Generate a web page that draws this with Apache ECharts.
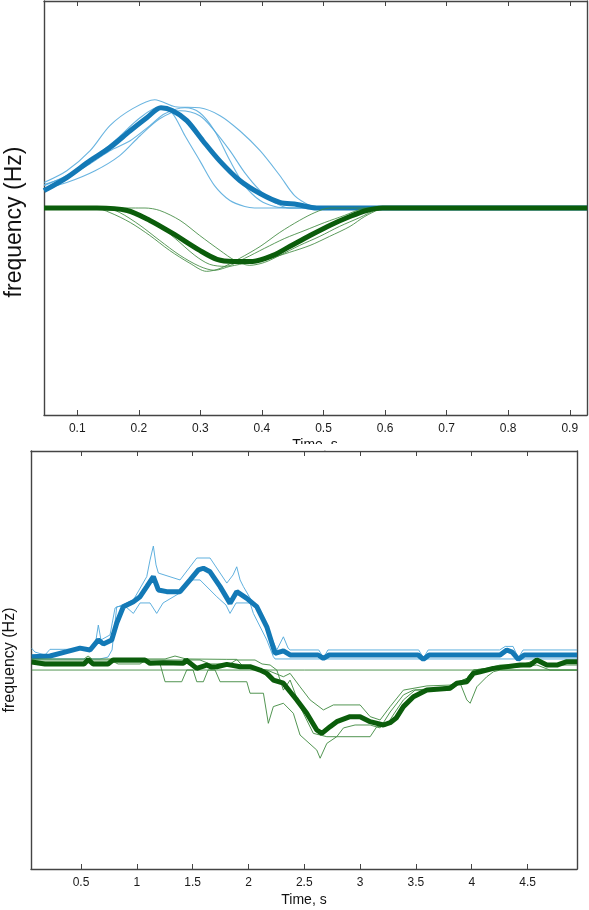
<!DOCTYPE html>
<html lang="en">
<head>
    <meta charset="UTF-8">
    <title>frequency traces</title>
    <script src="https://cdn.jsdelivr.net/npm/echarts@6/dist/echarts.min.js"></script>
    <style>
        html, body { margin: 0; padding: 0; background: #fff; }
        #main { width: 589px; height: 910px; }
    </style>
</head>
<body>
<div id="main"></div>
<script>
    // tick labels
    var topTicks = [0.1, 0.2, 0.3, 0.4, 0.5, 0.6, 0.7, 0.8, 0.9];
    var bottomTicks = [0.5, 1, 1.5, 2, 2.5, 3, 3.5, 4, 4.5];

    // top panel: [time s, frequency (arb.)]
    var topBlueMean = [[0.046,8.4],[0.083,14.7],[0.121,22.9],[0.153,29.2],[0.186,37.3],[0.213,43.6],[0.236,48.4],[0.255,47.0],[0.278,42.2],[0.304,32.5],[0.331,22.9],[0.364,13.3],[0.397,7.0],[0.429,2.7],[0.457,1.7],[0.489,0],[0.928,0]];
    var topBlue1 = [[0.046,12.3],[0.083,18],[0.121,27.7],[0.153,39.8],[0.190,48],[0.226,52.3],[0.259,48.9],[0.299,48.4],[0.332,44.6],[0.364,37.3],[0.397,27.7],[0.429,15.7],[0.453,6],[0.478,1.2],[0.494,0],[0.928,0]];
    var topBlue2 = [[0.046,10.8],[0.083,15.7],[0.121,22.9],[0.161,32.5],[0.202,43.6],[0.234,48.9],[0.254,46],[0.275,34.9],[0.299,22.9],[0.323,10.8],[0.348,3.6],[0.372,0.7],[0.388,0],[0.928,0]];
    var topBlue3 = [[0.046,9.4],[0.083,12.3],[0.129,18],[0.169,25.3],[0.202,34.9],[0.234,43.1],[0.267,47],[0.299,44.6],[0.323,37.3],[0.348,27.7],[0.372,17.1],[0.397,8.4],[0.421,2.7],[0.445,0],[0.928,0]];
    var topBlue4 = [[0.046,11.3],[0.083,15.2],[0.121,21.4],[0.153,27.7],[0.186,32.5],[0.218,39.8],[0.242,45.5],[0.275,48.4],[0.299,46],[0.323,37.3],[0.348,22.9],[0.372,10.8],[0.397,3.6],[0.421,0.7],[0.445,0],[0.928,0]];

    var topGreenMean = [[0.046,0],[0.132,0],[0.181,-1.2],[0.218,-6],[0.255,-12.3],[0.299,-20.5],[0.327,-24.8],[0.353,-25.8],[0.385,-25.8],[0.418,-22.9],[0.445,-18.6],[0.478,-13.3],[0.510,-8.4],[0.543,-4.1],[0.570,-1.2],[0.596,0],[0.928,0]];
    var topGreen1 = [[0.046,0],[0.129,0],[0.153,-2.2],[0.186,-7],[0.218,-13.3],[0.250,-20.5],[0.283,-26.7],[0.310,-30.6],[0.332,-29.2],[0.364,-24.3],[0.397,-18.6],[0.429,-11.8],[0.461,-6],[0.486,-2.2],[0.510,0],[0.928,0]];
    var topGreen2 = [[0.046,0],[0.145,0],[0.169,-2.2],[0.202,-8.4],[0.234,-15.7],[0.267,-22.9],[0.299,-28.2],[0.323,-30.1],[0.348,-28.2],[0.380,-26.3],[0.413,-24.3],[0.445,-21.4],[0.478,-18.1],[0.510,-13.7],[0.543,-8.9],[0.567,-4.1],[0.591,-0.7],[0.607,0],[0.928,0]];
    var topGreen3 = [[0.046,0],[0.210,0],[0.234,-1.2],[0.267,-6],[0.299,-13.3],[0.332,-20.5],[0.356,-25.3],[0.380,-27.7],[0.404,-26.3],[0.429,-22.9],[0.461,-18.1],[0.494,-13.7],[0.526,-8.9],[0.559,-4.6],[0.583,-1.2],[0.600,0],[0.928,0]];
    var topGreen4 = [[0.046,0],[0.169,0],[0.194,-2.2],[0.226,-7],[0.259,-14.7],[0.291,-22.9],[0.315,-27.2],[0.340,-28.2],[0.372,-24.3],[0.404,-19.5],[0.437,-14.7],[0.470,-10.8],[0.502,-7],[0.534,-3.6],[0.559,-0.7],[0.575,0],[0.928,0]];

    // bottom panel
    var botBlueMean = [[0.058,1.6],[0.222,1.9],[0.372,4.0],[0.491,5.7],[0.581,4.8],[0.655,9.6],[0.700,7.7],[0.775,9.6],[0.820,17.7],[0.879,25.5],[0.969,27.9],[1.029,30.3],[1.089,35.1],[1.148,39.9],[1.193,33.5],[1.268,32.7],[1.387,32.7],[1.477,38.3],[1.551,43.1],[1.596,43.9],[1.656,42.2],[1.746,35.1],[1.835,27.1],[1.895,32.7],[1.985,29.5],[2.074,25.5],[2.164,15.9],[2.238,3.2],[2.313,4.4],[2.373,2.4],[2.624,2.4],[2.671,0.8],[2.722,2.4],[3.520,2.4],[3.567,0.3],[3.618,2.4],[4.254,2.4],[4.314,4.8],[4.362,3.8],[4.418,0.3],[4.470,2.4],[4.944,2.4]];
    var botBlue1 = [[0.058,5.6],[0.087,3.8],[0.177,2.4],[0.222,5.1],[0.581,5.1],[0.634,9.6],[0.655,16.7],[0.679,9.6],[0.760,12],[0.805,24.9],[0.969,28.7],[1.089,39.9],[1.118,47.8],[1.148,54.5],[1.172,45.5],[1.193,41.6],[1.387,38.3],[1.537,48.8],[1.656,48.8],[1.806,36.8],[1.862,40.7],[1.895,44.6],[1.925,38.3],[1.955,35.1],[2.164,15.9],[2.254,4.8],[2.313,11.1],[2.355,5.7],[2.373,4.8],[2.630,4.8],[2.671,1.0],[2.712,4.8],[3.525,4.8],[3.567,1.0],[3.610,4.8],[4.25,4.8],[4.30,6.5],[4.37,6.5],[4.418,1.0],[4.46,4.8],[4.944,4.8]];
    var botBlue2 = [[0.058,0.5],[0.670,0.5],[0.742,1.4],[0.778,4.8],[0.820,25.5],[0.894,25.8],[0.969,22.3],[1.029,27.3],[1.118,27.3],[1.178,22.3],[1.235,27.3],[1.387,32.1],[1.477,38.3],[1.566,38.3],[1.716,30.3],[1.799,26.3],[1.835,22.3],[1.889,27.3],[2.014,27.3],[2.044,22.3],[2.164,9.6],[2.223,1.6],[2.238,0.5],[4.944,0.5]];

    var botGreenMean = [[0.058,-1],[0.177,-1.9],[0.527,-1.9],[0.565,0.2],[0.608,-1.9],[0.742,-1.9],[0.787,0],[1.073,0],[1.118,-1.6],[1.237,-1.3],[1.417,-1.6],[1.441,0],[1.537,-4.0],[1.626,-2.4],[1.665,-3.3],[1.716,-3.2],[1.806,-2.1],[1.925,-3.2],[2.014,-3.2],[2.104,-4.8],[2.164,-6.4],[2.223,-9.6],[2.313,-11.1],[2.373,-15.2],[2.433,-19.1],[2.522,-25.5],[2.612,-33.5],[2.657,-35.1],[2.731,-31.9],[2.791,-29.5],[2.910,-27.1],[3.000,-27.1],[3.090,-29.5],[3.209,-31.1],[3.269,-30.0],[3.323,-27.8],[3.388,-22.3],[3.478,-17.6],[3.598,-14.4],[3.806,-13.5],[3.866,-11.1],[3.956,-10.4],[4.015,-6.4],[4.075,-5.6],[4.194,-4.0],[4.434,-2.4],[4.523,-2.4],[4.583,0],[4.673,-2.4],[4.763,-2.4],[4.852,-0.8],[4.944,-0.8]];
    var botGreen0 = [[0.058,-4.8],[4.944,-4.8]];
    var botGreen1 = [[0.058,0.5],[0.527,0.5],[0.563,1.9],[0.599,0.5],[1.253,0.5],[1.342,1.9],[1.441,0.5],[1.806,0.3],[1.895,0.3],[1.954,-3.2],[2.164,-4.8],[2.313,-8.0],[2.373,-6.4],[2.462,-12.8],[2.552,-19.1],[2.671,-23.9],[2.761,-21.5],[3.000,-21.5],[3.090,-27.1],[3.179,-28.7],[3.269,-22.3],[3.388,-14.4],[3.598,-12.4],[3.806,-12.0],[3.956,-8.8],[4.015,-4.8],[4.135,-4.0],[4.254,-2.4],[4.434,-2.4],[4.583,0],[4.673,-2.4],[4.944,-2.4]];
    var botGreen2 = [[0.058,-1.0],[1.118,-1.0],[1.208,-1.9],[1.253,-10.4],[1.402,-10.4],[1.447,-4.8],[1.504,-4.8],[1.537,-10.4],[1.596,-10.4],[1.638,-4.8],[1.701,-4.8],[1.746,-10.4],[1.985,-10.4],[2.014,-15.9],[2.134,-15.9],[2.178,-30.3],[2.223,-22.3],[2.313,-20.7],[2.402,-25.5],[2.462,-35.9],[2.612,-43.1],[2.642,-47.0],[2.702,-39.9],[2.791,-36.7],[3.090,-36.7],[3.150,-31.9],[3.233,-31.6],[3.314,-24.9],[3.388,-19.1],[3.493,-14.4],[3.806,-14.4],[3.896,-11.1],[3.956,-19.1],[3.986,-20.7],[4.046,-12.8],[4.135,-8.0],[4.195,-5.6],[4.254,-4.8],[4.944,-4.8]];
    var botGreen3 = [[0.058,0],[0.760,0],[0.832,-1.9],[1.029,-1.9],[1.082,0],[1.566,0],[1.656,-1.9],[1.835,-1.9],[1.889,0],[2.059,0],[2.122,-1.9],[2.194,-2.4],[2.254,-4.8],[2.313,-14.4],[2.373,-9.6],[2.462,-22.3],[2.581,-35.1],[2.702,-36.7],[2.791,-36.7],[2.851,-32.5],[2.955,-31.1],[3.090,-31.1],[3.179,-32.5],[3.269,-24.9],[3.388,-16.7],[3.478,-14.4],[3.717,-13.4],[3.836,-12.0],[3.956,-8.8],[4.015,-4.8],[4.135,-4.0],[4.344,-3.8],[4.583,-2.4],[4.701,-4.8],[4.944,-4.8]];

    var blueThick = '#1379b6', blueThin = '#4fa7da';
    var greenThick = '#0b5d0b', greenThin = '#3f8a3f';
    var frame = '#444';
    var font = 'Liberation Sans, Helvetica, Arial, sans-serif';

    function xAx(grid, pos, min, max, ticks, showLabel, name, nameGap) {
        return {
            type: 'value', gridIndex: grid, position: pos, min: min, max: max,
            name: name || '', nameLocation: 'middle', nameGap: nameGap || 0,
            nameTextStyle: { fontFamily: font, fontSize: 14, color: '#111' },
            axisLine: { show: true, onZero: false, lineStyle: { color: frame, width: 1.4 } },
            axisTick: { show: true, inside: true, length: 5, customValues: ticks, lineStyle: { color: frame, width: 1 } },
            axisLabel: { show: showLabel, customValues: ticks, margin: 8, fontFamily: font, fontSize: 12, color: '#1a1a1a' },
            splitLine: { show: false }
        };
    }
    function yAx(grid, pos) {
        return {
            type: 'value', gridIndex: grid, position: pos, min: -100, max: 100,
            axisLine: { show: true, onZero: false, lineStyle: { color: frame, width: 1.4 } },
            axisTick: { show: false }, axisLabel: { show: false }, splitLine: { show: false }
        };
    }
    function line(data, xi, color, width, opacity, smooth) {
        return {
            type: 'line', xAxisIndex: xi, yAxisIndex: xi, data: data,
            showSymbol: false, symbol: 'none', smooth: smooth ? 0.3 : false,
            lineStyle: { color: color, width: width, opacity: opacity },
            silent: true
        };
    }

    var myChart = echarts.init(document.getElementById('main'));
    myChart.setOption({
        animation: false,
        backgroundColor: '#fff',
        grid: [
            { left: 44, right: 2, top: 1, height: 414 },
            { left: 31, right: 12, top: 451, height: 418 }
        ],
        xAxis: [
            xAx(0, 'bottom', 0.046, 0.928, topTicks, true),
            xAx(0, 'top', 0.046, 0.928, topTicks, false),
            xAx(1, 'bottom', 0.052, 4.943, bottomTicks, true, 'Time, s', 24),
            xAx(1, 'top', 0.052, 4.943, bottomTicks, false)
        ],
        yAxis: [yAx(0, 'left'), yAx(0, 'right'), yAx(1, 'left'), yAx(1, 'right')],
        graphic: [
            { type: 'text', x: 15, y: 222, rotation: Math.PI / 2,
              style: { text: 'frequency (Hz)', fontFamily: font, fontSize: 23, fill: '#111', align: 'center', verticalAlign: 'middle' } },
            { type: 'text', x: 10, y: 660, rotation: Math.PI / 2,
              style: { text: 'frequency (Hz)', fontFamily: font, fontSize: 16, fill: '#111', align: 'center', verticalAlign: 'middle' } },
            // top panel's axis title, mostly hidden under the lower panel
            { type: 'text', x: 315, y: 438.5, z: 10,
              style: { text: 'Time, s', fontFamily: font, fontSize: 14, fill: '#111', align: 'center', verticalAlign: 'top' } },
            { type: 'rect', z: 20, shape: { x: 250, y: 444, width: 130, height: 6.5 }, style: { fill: '#fff' } }
        ],
        series: [
            line(topBlue1, 0, blueThin, 1.1, 0.85, true),
            line(topBlue2, 0, blueThin, 1.1, 0.85, true),
            line(topBlue3, 0, blueThin, 1.1, 0.85, true),
            line(topBlue4, 0, blueThin, 1.1, 0.85, true),
            line(topBlueMean, 0, blueThick, 5, 1, true),
            line(topGreen1, 0, greenThin, 1, 0.85, true),
            line(topGreen2, 0, greenThin, 1, 0.85, true),
            line(topGreen3, 0, greenThin, 1, 0.85, true),
            line(topGreen4, 0, greenThin, 1, 0.85, true),
            line(topGreenMean, 0, greenThick, 5, 1, true),

            line(botBlue1, 2, blueThin, 1, 0.9),
            line(botBlue2, 2, blueThin, 1, 0.9),
            line(botBlueMean, 2, blueThick, 5, 1),
            line(botGreen0, 2, greenThin, 1, 0.9),
            line(botGreen1, 2, greenThin, 1, 0.9),
            line(botGreen2, 2, greenThin, 1, 0.9),
            line(botGreen3, 2, greenThin, 1, 0.9),
            line(botGreenMean, 2, greenThick, 5, 1)
        ]
    });
</script>
</body>
</html>
